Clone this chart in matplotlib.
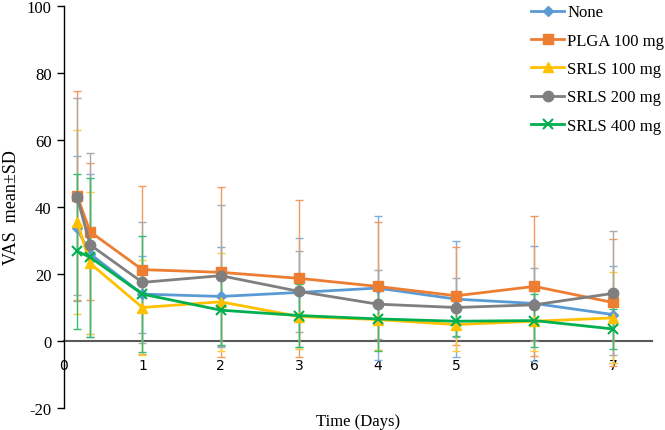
import matplotlib
matplotlib.use("Agg")
import matplotlib.pyplot as plt
import numpy as np

times = [1/6, 1/3, 1, 2, 3, 4, 5, 6, 7]
series_names = ["None", "PLGA 100 mg", "SRLS 100 mg", "SRLS 200 mg", "SRLS 400 mg"]

none_mean = [33.6, 26.0, 14.0, 13.3, 14.5, 15.8, 12.5, 11.2, 7.9]
none_sd = [21.7, 24.0, 11.5, 14.7, 16.2, 21.4, 17.3, 17.1, 14.4]

plga_mean = [43.4, 32.6, 21.3, 20.5, 18.7, 16.3, 13.5, 16.3, 11.5]
plga_sd = [31.3, 20.4, 25.1, 25.4, 23.5, 19.1, 14.7, 20.9, 18.9]

srls100_mean = [35.6, 23.2, 10.0, 11.7, 7.3, 6.4, 4.9, 5.9, 6.9]
srls100_sd = [27.4, 21.2, 14.2, 14.6, 9.7, 9.0, 8.0, 9.0, 13.6]

srls200_mean = [43.0, 28.7, 17.5, 19.5, 14.8, 11.0, 10.0, 10.8, 14.2]
srls200_sd = [29.4, 27.4, 18.1, 21.2, 12.2, 10.3, 8.7, 10.9, 18.5]

srls400_mean = [26.8, 25.0, 14.0, 9.2, 7.6, 6.6, 5.9, 6.1, 3.6]
srls400_sd = [23.2, 23.7, 17.4, 10.4, 9.3, 9.5, 4.5, 8.0, 6.0]

x_ticks = [0, 1, 2, 3, 4, 5, 6, 7]
y_ticks = [-20, 0, 20, 40, 60, 80, 100]

means = [none_mean, plga_mean, srls100_mean, srls200_mean, srls400_mean]
sds = [none_sd, plga_sd, srls100_sd, srls200_sd, srls400_sd]
colors = ["#5B9BD5", "#ED7D31", "#FFC000", "#7F7F7F", "#00B050"]
err_colors = ["#7FB0DD", "#F09A5F", "#FFCC33", "#AAAAAA", "#33BF73"]
markers = ["D", "s", "^", "o", "x"]
msizes = [5, 7, 7, 7.5, 7]

fig = plt.figure(figsize=(6.65, 4.31), dpi=100)
ax = fig.add_axes([64/665, 1-409/431, (652-64)/665, (409-7)/431])

for i in range(5):
    ax.errorbar(times, means[i], yerr=sds[i], fmt="none", ecolor=err_colors[i],
                elinewidth=1.0, capsize=3, capthick=1.0, zorder=2)
for i in range(5):
    mew = 1.5 if markers[i] == "x" else 1
    ax.plot(times, means[i], color=colors[i], lw=2.0, marker=markers[i],
            markersize=msizes[i], markeredgewidth=mew, label=series_names[i], zorder=3 + i)

ax.set_xlim(0, 7.5)
ax.set_ylim(-20, 100)
ax.set_yticks(y_ticks)
ax.set_xticks(x_ticks)
ax.set_xticklabels([str(v) for v in x_ticks], fontfamily="Liberation Sans", fontsize=12)
ax.set_yticklabels([str(v) for v in y_ticks], fontfamily="Liberation Serif", fontsize=12)

ax.spines["top"].set_visible(False)
ax.spines["right"].set_visible(False)
ax.spines["bottom"].set_position(("data", 0))
ax.spines["bottom"].set_color("#595959")
ax.spines["bottom"].set_linewidth(1.5)
ax.spines["bottom"].set_zorder(1)
ax.spines["left"].set_color("black")
ax.spines["left"].set_linewidth(1.0)
ax.tick_params(axis="x", length=0, pad=12)
ax.tick_params(axis="y", length=5, width=1, direction="out", pad=4)

ax.text(0.5, (409-422)/402, "Time (Days)", transform=ax.transAxes, ha="center", va="center",
        fontfamily="Liberation Serif", fontsize=12)
ax.text((12-64)/588, 0.5, "VAS  mean\u00b1SD", transform=ax.transAxes, ha="center", va="center",
        rotation=90, fontfamily="Liberation Serif", fontsize=13)

leg = ax.legend(loc="upper left", bbox_to_anchor=((531-64)/588, 1.004), frameon=False,
                prop={"family": "Liberation Serif", "size": 12}, handlelength=2.0,
                handletextpad=0.18, labelspacing=0.74, borderaxespad=0, borderpad=0)

fig.savefig("out.png", dpi=100)
